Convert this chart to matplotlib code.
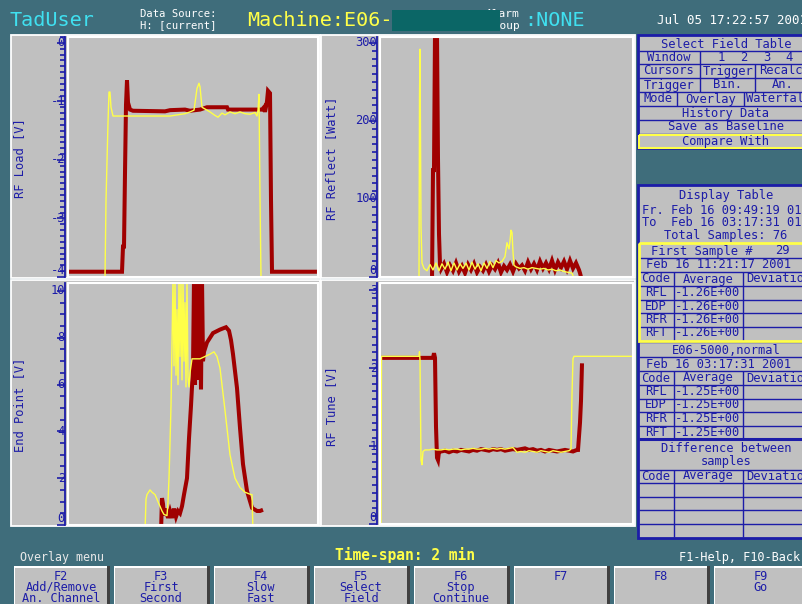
import numpy as np
import matplotlib
matplotlib.use("Agg")
import matplotlib.pyplot as plt
from matplotlib.patches import Rectangle
from matplotlib.ticker import MultipleLocator
from matplotlib.transforms import blended_transform_factory, offset_copy

plt.rcParams["font.family"] = ["DejaVu Sans Mono", "DejaVu Sans"]
plt.rcParams["axes.unicode_minus"] = False

# ---------------- data (time in samples from the left edge of each plot) ----
# RF Load [V]
load_red_t = [0, 54, 55, 56, 57, 58, 59, 60, 62, 65, 97, 102, 117, 122, 132, 139, 159, 160,
              194, 196, 197, 199, 200, 202, 203, 204, 250]
load_red_v = [-3.91, -3.91, -3.48, -3.48, -2.22, -1.06, -0.64, -1.02, -1.14, -1.16, -1.17,
              -1.15, -1.14, -1.16, -1.14, -1.10, -1.10, -1.14, -1.14, -1.10, -1.18, -1.00,
              -0.82, -0.86, -2.69, -3.91, -3.91]
load_yel_t = [0, 36, 37, 38, 40, 41, 42, 43, 45, 102, 117, 122, 126, 127, 129, 131, 132, 134,
              137, 142, 147, 150, 154, 157, 162, 167, 172, 177, 182, 187, 189, 190, 191, 192, 193, 250]
load_yel_v = [-4.0, -4.0, -4.0, -2.7, -1.36, -0.84, -0.84, -1.1, -1.25, -1.25, -1.21, -1.18,
              -1.15, -1.03, -0.78, -0.69, -0.75, -1.1, -1.13, -1.18, -1.24, -1.27, -1.2, -1.23,
              -1.18, -1.21, -1.18, -1.21, -1.22, -1.19, -1.25, -1.15, -0.88, -2.63, -4.0, -4.0]

# RF Reflect [Watt]
refl_red_t = [52, 53, 54, 55, 57, 58, 59, 60] + list(np.arange(61, 200, 3)) + [200, 202]
refl_red_v = [-5, 137, 137, 310, 310, 150, 55, 16] + \
    [10, 17, 6, 15, 8, 18, 7, 14, 5, 16, 9, 17, 6, 13, 8, 16, 7, 15, 10, 18, 6, 14, 9, 16,
     7, 17, 11, 15, 8, 19, 10, 17, 9, 20, 11, 18, 10, 21, 9, 19, 12, 20, 10, 21, 11, 18, 9] + [5, -5]
refl_yel_t = [39, 39.5, 40, 41, 42] + list(np.arange(44, 120, 3)) + \
    [122, 125, 127, 129, 130, 131, 132, 133, 134] + list(np.arange(136, 193, 4)) + [195]
refl_yel_v = [-5, 231, 292, 65, 18] + \
    [11, 8, 16, 9, 18, 8, 17, 10, 19, 8, 18, 9, 17, 11, 18, 9, 19, 10, 17, 8, 18, 11, 20, 12, 21, 18] + \
    [20, 26, 44, 36, 46, 60, 57, 32, 15] + \
    [13, 11, 12, 10, 12, 11, 10, 11, 9, 10, 8, 9, 7, 6, 5] + [-5]

# End Point [V]
ep_red_t = [93, 94, 95, 96, 98, 100, 102, 104, 106, 108, 110, 112, 114, 116, 119, 121, 123, 125,
            126, 127, 128, 129, 130, 131, 132, 133, 134, 135, 136, 139, 145, 152, 158, 161, 163,
            165, 169, 172, 175, 179, 184, 189, 192, 195]
ep_red_v = [-0.3, 1.15, 0.9, 0.4, 0.7, 0.3, 0.6, 0.3, 0.7, 0.35, 0.6, 0.5, 0.8, 1.3, 2.0, 3.7,
            5.1, 6.7, 10.5, 6.0, 10.5, 7.0, 10.5, 6.2, 10.5, 5.8, 10.5, 7.0, 7.4, 7.8, 8.2, 8.35,
            8.45, 8.3, 7.9, 7.3, 5.85, 4.15, 2.6, 1.45, 0.73, 0.6, 0.6, 0.65]
ep_yel_t = [77, 78, 79, 82, 84, 87, 90, 92, 94, 96, 99, 100, 101, 102, 103, 104,
            105, 106, 107, 108, 109, 110, 111, 112, 113, 114, 115, 116, 117, 118, 119, 120,
            121, 122, 124, 132, 137, 142, 146, 149, 152, 157, 162, 167, 172, 177, 183, 184, 185]
ep_yel_v = [-0.3, 1.1, 1.3, 1.5, 1.4, 1.3, 1.0, 0.8, 0.6, 0.45, 0.4, 1.0, 2.0, 3.5, 5.1, 7.7,
            10.5, 6.8, 10.5, 6.4, 9.2, 6.0, 10.5, 7.2, 10.5, 6.2, 10.5, 7.0, 9.5, 5.9, 10.5, 6.3,
            5.9, 6.5, 7.1, 7.1, 7.2, 7.3, 7.4, 7.2, 6.7, 4.9, 3.0, 2.0, 1.6, 1.4, 1.3, 1.3, -0.3]

# RF Tune [V]
tune_red_t = [0, 53, 54, 55, 56, 57, 58, 59] + list(np.arange(61, 198, 4)) + [198, 200, 201, 202]
tune_red_v = [2.13, 2.13, 2.19, 2.13, 1.25, 0.85, 0.82, 0.93] + \
    [0.93, 0.94, 0.92, 0.94, 0.93, 0.95, 0.94, 0.93, 0.95, 0.94, 0.96, 0.95, 0.94, 0.96, 0.95,
     0.96, 0.94, 0.95, 0.96, 0.95, 0.96, 0.97, 0.95, 0.96, 0.94, 0.95, 0.93, 0.95, 0.94, 0.93,
     0.94, 0.95, 0.94, 0.93, 0.95] + [0.95, 1.3, 1.58, 2.06]
tune_yel_t = [1, 1.5, 39, 39.5, 40, 41, 42, 43] + list(np.arange(45, 190, 4)) + [191, 192, 193, 194, 253]
tune_yel_v = [0.0, 2.15, 2.15, 2.21, 2.1, 0.82, 0.76, 0.93] + \
    [0.95, 0.95, 0.96, 0.95, 0.95, 0.96, 0.95, 0.96, 0.96, 0.95, 0.96, 0.96, 0.97, 0.96, 0.96,
     0.97, 0.96, 0.97, 0.96, 0.97, 0.96, 0.97, 0.98, 0.92, 0.93, 0.92, 0.94, 0.93, 0.92, 0.94,
     0.93, 0.92, 0.94, 0.93, 0.92, 0.93, 0.94] + [0.96, 1.66, 2.12, 2.15, 2.15]

# ---------------- colours / helpers ------------------------------------------
W, H = 803, 604
TEAL = "#3f6d7b"
GREY = "#c0c0c0"
RED = "#a00000"
YEL = "#ffff48"
BLUE = "#1c1ca8"
CYAN = "#40e0f0"
FS = 8.7

fig = plt.figure(figsize=(W / 100, H / 100), dpi=100, facecolor=TEAL)
bg = fig.add_axes([0, 0, 1, 1], zorder=0)
bg.set_xlim(0, W)
bg.set_ylim(H, 0)
bg.axis("off")


def rect(x0, y0, x1, y1, fc=GREY, ec="none", lw=1.0, z=1):
    bg.add_patch(Rectangle((x0, y0), x1 - x0, y1 - y0, facecolor=fc, edgecolor=ec,
                           linewidth=lw, zorder=z))


def txt(x, y, s, color=BLUE, size=FS, ha="left", z=5, **kw):
    bg.text(x, y, s, color=color, fontsize=size, ha=ha, va="center", zorder=z, **kw)


def hline(y, x0=639, x1=803, lw=1.0, color=BLUE):
    bg.plot([x0, x1], [y, y], color=color, lw=lw, zorder=3, solid_capstyle="butt")


def vline(x, y0, y1, lw=1.0, color=BLUE):
    bg.plot([x, x], [y0, y1], color=color, lw=lw, zorder=3, solid_capstyle="butt")


# ---------------- top bar ----------------------------------------------------
txt(10, 20, "TadUser", color=CYAN, size=14.5)
txt(140, 14, "Data Source:", color="white", size=7.6)
txt(140, 25, "H: [current]", color="white", size=7.6)
txt(247, 20, "Machine:E06-", color=YEL, size=14.5)
txt(520, 14, "Alarm", color="white", size=8, ha="right", z=2)
txt(520, 26, "Group", color="white", size=8, ha="right", z=2)
rect(392, 10, 500, 31, fc="#0b6666", z=4)
txt(524, 20, ":NONE", color=CYAN, size=14.5)
txt(657, 20, "Jul 05 17:22:57 2001", color="white", size=9.0)

# ---------------- plot panels ------------------------------------------------
for (x0, y0, x1, y1) in [(11, 35, 320, 278), (321, 35, 635, 278),
                         (11, 280, 320, 526), (321, 280, 635, 526)]:
    rect(x0, y0, x1, y1, fc=GREY, ec="white", lw=1.3, z=1)


def plot_axes(x0, y0, x1, y1, xmax, ylim, ticks, labels, minor, ylabel, lx, ly):
    ax = fig.add_axes([x0 / W, 1 - y1 / H, (x1 - x0) / W, (y1 - y0) / H], zorder=2)
    ax.set_facecolor(GREY)
    ax.set_xlim(0, xmax)
    ax.set_ylim(*ylim)
    for s in ["top", "right", "bottom"]:
        ax.spines[s].set_visible(False)
    ax.spines["left"].set_color(BLUE)
    ax.spines["left"].set_linewidth(1.3)
    ax.spines["left"].set_position(("outward", 2.2))
    ax.add_patch(Rectangle((0, 0), 1, 1, transform=ax.transAxes, fill=False,
                           edgecolor="white", linewidth=1.5, clip_on=False, zorder=6))
    ax.set_xticks([])
    ax.set_yticks(ticks)
    ax.yaxis.set_minor_locator(MultipleLocator(minor))
    ax.tick_params(axis="y", which="major", direction="out", length=6, width=1.2,
                   color=BLUE, labelleft=False)
    ax.tick_params(axis="y", which="minor", direction="out", length=3.5, width=1.2,
                   color=BLUE)
    tr = offset_copy(blended_transform_factory(ax.transAxes, ax.transData), fig=fig,
                     x=-3, y=0, units="dots")
    for i, (v, lab) in enumerate(zip(ticks, labels)):
        ax.text(0, v, lab, transform=tr, ha="right",
                va="bottom" if i == 0 else "center",
                color=BLUE, fontsize=FS, clip_on=False, zorder=7)
    txt(lx, ly, ylabel, rotation=90, ha="center")
    return ax


ax_load = plot_axes(68, 37, 318, 277, 250, (-4.0, 0.1), [-4, -3, -2, -1, 0],
                    ["-4", "-3", "-2", "-1", "0"], 0.1, "RF Load [V]", 20, 158)
ax_refl = plot_axes(380, 37, 633, 277, 253, (0, 307.6), [0, 100, 200, 300],
                    ["0", "100", "200", "300"], 10, "RF Reflect [Watt]", 332, 158)
ax_ep = plot_axes(68, 283, 318, 525, 250, (0, 10.34), [0, 2, 4, 6, 8, 10],
                  ["0", "2", "4", "6", "8", "10"], 0.5, "End Point [V]", 20, 405)
ax_tune = plot_axes(380, 283, 633, 524, 253, (0, 3.09), [0, 1, 2, 3],
                    ["0", "1", "2", "3"], 0.1, "RF Tune [V]", 332, 406)

red_kw = dict(color=RED, lw=2.9, solid_joinstyle="miter", solid_capstyle="butt", zorder=3)
yel_kw = dict(color=YEL, lw=1.0, zorder=4)
for ax, (rt, rv), (yt, yv) in [
        (ax_load, (load_red_t, load_red_v), (load_yel_t, load_yel_v)),
        (ax_refl, (refl_red_t, refl_red_v), (refl_yel_t, refl_yel_v)),
        (ax_ep, (ep_red_t, ep_red_v), (ep_yel_t, ep_yel_v)),
        (ax_tune, (tune_red_t, tune_red_v), (tune_yel_t, tune_yel_v))]:
    ax.plot(rt, rv, **red_kw)
    ax.plot(yt, yv, **yel_kw)

# ---------------- Select Field Table -----------------------------------------
rect(638, 35, 812, 148, fc=GREY, ec=BLUE, lw=2.0, z=1)
for y in [51, 64, 78, 92, 106, 120, 134]:
    hline(y)
vline(700, 51, 92)
vline(755, 64, 92)
vline(677, 92, 106)
vline(744, 92, 106)
txt(726, 44, "Select Field Table", ha="center")
txt(669, 57.5, "Window", ha="center")
for x, s in zip([721, 744, 767, 789], ["1", "2", "3", "4"]):
    txt(x, 57.5, s, ha="center")
txt(669, 71, "Cursors", ha="center")
txt(728, 71, "Trigger", ha="center")
txt(759, 71, "Recalc")
txt(669, 85, "Trigger", ha="center")
txt(728, 85, "Bin.", ha="center")
txt(783, 85, "An.", ha="center")
txt(658, 99, "Mode", ha="center")
txt(711, 99, "Overlay", ha="center")
txt(746, 99, "Waterfall")
txt(726, 113, "History Data", ha="center")
txt(726, 127, "Save as Baseline", ha="center")
txt(726, 141, "Compare With", ha="center")
rect(639, 134.5, 812, 147.5, fc="none", ec=YEL, lw=1.5, z=4)

# ---------------- Display Table ----------------------------------------------
rect(638, 185, 812, 538, fc=GREY, ec=BLUE, lw=2.0, z=1)
txt(726, 195, "Display Table", ha="center")
txt(642, 210, "Fr. Feb 16 09:49:19 01")
txt(642, 223, "To  Feb 16 03:17:31 01")
txt(726, 236, "Total Samples: 76", ha="center")
txt(651, 251, "First Sample #")
txt(775, 251, "29")
hline(258)
txt(646, 265, "Feb 16 11:21:17 2001")
hline(272)


def code_table(y_head, rows, value):
    txt(656, y_head, "Code", ha="center")
    txt(708, y_head, "Average", ha="center")
    txt(746, y_head, "Deviation")
    hline(y_head + 7)
    for i, code in enumerate(rows):
        yc = y_head + 13.5 * (i + 1)
        txt(656, yc, code, ha="center")
        if value:
            txt(675, yc, value)
        if i < len(rows) - 1:
            hline(yc + 7)


codes = ["RFL", "EDP", "RFR", "RFT"]
code_table(279, codes, "-1.26E+00")
vline(674, 272, 341)
vline(743, 272, 341)
hline(342)
txt(726, 350, "E06-5000,normal", ha="center")
hline(357)
txt(646, 364, "Feb 16 03:17:31 2001")
hline(371)
code_table(378, codes, "-1.25E+00")
vline(674, 371, 439)
vline(743, 371, 439)
hline(439, lw=2.2)
txt(726, 449, "Difference between", ha="center")
txt(726, 462, "samples", ha="center")
hline(470)
code_table(476, ["", "", "", ""], None)
vline(674, 470, 537)
vline(743, 470, 537)
rect(639, 243, 812, 341, fc="none", ec=YEL, lw=2.0, z=4)

# ---------------- bottom bar -------------------------------------------------
txt(20, 558, "Overlay menu", color="#e8e8e8", size=8.4)
txt(405, 555, "Time-span: 2 min", color=YEL, size=10.5, ha="center", weight="bold")
txt(800, 558, "F1-Help, F10-Back", color="white", size=8.6, ha="right")

buttons = [["F2", "Add/Remove", "An. Channel"], ["F3", "First", "Second"],
           ["F4", "Slow", "Fast"], ["F5", "Select", "Field"],
           ["F6", "Stop", "Continue"], ["F7"], ["F8"], ["F9", "Go"]]
for i, lines in enumerate(buttons):
    x0 = 14 + i * 100
    rect(x0, 566, x0 + 96, 612, fc="#404040", z=1)
    rect(x0, 566, x0 + 93, 612, fc="white", z=1)
    rect(x0 + 1.5, 567.5, x0 + 93, 612, fc=GREY, z=1)
    for j, s in enumerate(lines):
        txt(x0 + 47, 576 + 11.5 * j, s, ha="center", size=8.6)

fig.savefig("out.png", dpi=100, facecolor=TEAL)
